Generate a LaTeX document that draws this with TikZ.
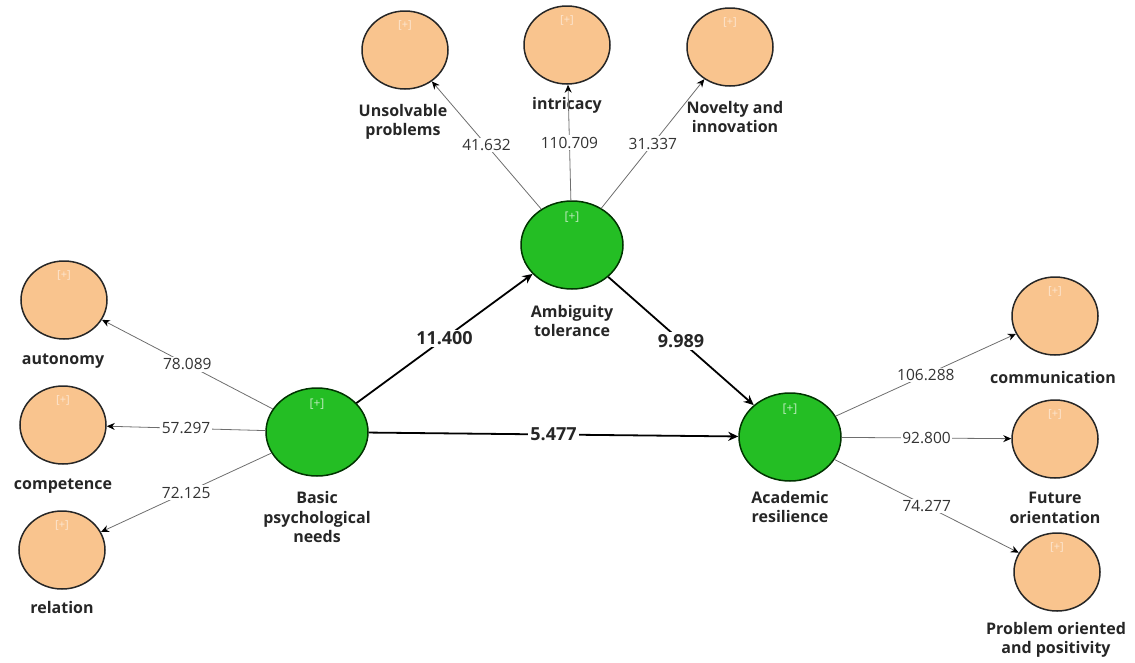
\documentclass[tikz,border=0pt]{standalone}
\usepackage{fontspec}
\setmainfont{Open Sans}
\usetikzlibrary{shapes.geometric,arrows.meta}
\definecolor{ind}{RGB}{249,196,142}
\definecolor{lat}{RGB}{36,190,36}
\definecolor{edgegray}{RGB}{110,110,110}
\tikzset{
  indic/.style={ellipse,draw=black!85,line width=1.5pt,fill=ind,minimum width=86pt,minimum height=78pt,inner sep=0pt},
  latent/.style={ellipse,draw=black!80!green,line width=1.5pt,fill=lat,minimum width=102pt,minimum height=88pt,inner sep=0pt},
  plusi/.style={text=white!60!ind,font=\fontsize{11}{11}\selectfont},
  plusl/.style={text=white!70!lat,font=\fontsize{12}{12}\selectfont},
  lbl/.style={font=\bfseries\fontsize{16}{19.5}\selectfont,align=center,text=black!85},
  load/.style={draw=edgegray,line width=0.8pt,-{Stealth[length=8pt,width=7pt,color=black]},
    every node/.style={fill=white,inner sep=1.5pt,font=\fontsize{15.5}{15.5}\selectfont,text=black!80}},
  path/.style={draw=black,line width=1.8pt,-{Stealth[length=10pt,width=9pt]},
    every node/.style={fill=white,inner sep=2pt,font=\bfseries\fontsize{18}{18}\selectfont,text=black!85}}
}
\begin{document}
\begin{tikzpicture}[x=1pt,y=-1pt]
\useasboundingbox (0,0) rectangle (1135,662);
% indicators
\node[indic] (unsolv) at (405,50) {};
\node[indic] (intric) at (567,45) {};
\node[indic] (novel) at (730,47) {};
\node[indic] (auton) at (64,300) {};
\node[indic] (compet) at (63,425) {};
\node[indic] (relat) at (62,550) {};
\node[indic] (commun) at (1055,316) {};
\node[indic] (future) at (1055,439) {};
\node[indic] (probl) at (1057,572) {};
% latent
\node[latent] (basic) at (317,432) {};
\node[latent] (ambig) at (572,245) {};
\node[latent] (acad) at (790,437) {};
% plus signs
\foreach \n in {unsolv,intric,novel,auton,compet,relat,commun,future,probl}
  \node[plusi] (p\n) at ([yshift=25pt]\n.center) {[+]};
\foreach \n in {basic,ambig,acad}
  \node[plusl] (p\n) at ([yshift=28pt]\n.center) {[+]};
% labels
\node[lbl] (lunsolv) at (403,122) {Unsolvable\\problems};
\node[lbl] (lintric) at (567,105) {intricacy};
\node[lbl] (lnovel) at (735,117) {Novelty and\\innovation};
\node[lbl] (lauton) at (63,361) {autonomy};
\node[lbl] (lcompet) at (63,486) {competence};
\node[lbl] (lrelat) at (62,607) {relation};
\node[lbl] (lbasic) at (317,517) {Basic\\psychological\\needs};
\node[lbl] (lambig) at (572,321) {Ambiguity\\tolerance};
\node[lbl] (lacad) at (790,507) {Academic\\resilience};
\node[lbl] (lcommun) at (1053,377) {communication};
\node[lbl] (lfuture) at (1055,508) {Future\\orientation};
\node[lbl] (lprobl) at (1056,640) {Problem oriented\\and positivity};
% loadings
\draw[load] (ambig) -- node {41.632} (unsolv);
\draw[load] (ambig) -- node {110.709} (intric);
\draw[load] (ambig) -- node {31.337} (novel);
\draw[load] (basic) -- node {78.089} (auton);
\draw[load] (basic) -- node {57.297} (compet);
\draw[load] (basic) -- node {72.125} (relat);
\draw[load] (acad) -- node {106.288} (commun);
\draw[load] (acad) -- node {92.800} (future);
\draw[load] (acad) -- node {74.277} (probl);
% structural paths
\draw[path] (basic) -- node {11.400} (ambig);
\draw[path] (ambig) -- node {9.989} (acad);
\draw[path] (basic) -- node {5.477} (acad);
\end{tikzpicture}
\end{document}
